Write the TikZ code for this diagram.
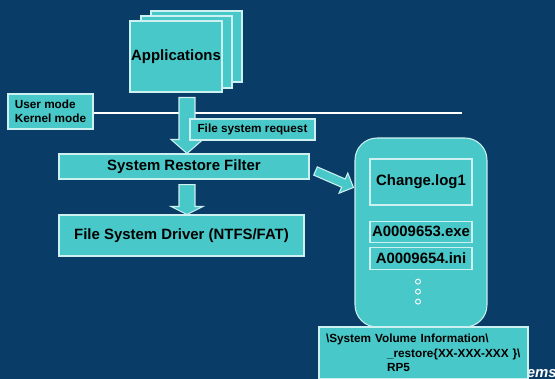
\documentclass[tikz,border=0pt]{standalone}
\usepackage{fontspec}
\setmainfont{Liberation Sans}
\usetikzlibrary{positioning,calc}

\definecolor{slideblue}{RGB}{9,61,104}
\definecolor{boxteal}{RGB}{72,200,200}
\definecolor{boxedge}{RGB}{205,240,240}

\tikzset{
  box/.style={draw=boxedge, fill=boxteal, line width=0.6pt, inner sep=0pt,
    font=\fontsize{8.5}{10}\selectfont\bfseries},
  smallbox/.style={box, font=\fontsize{6.7}{8}\selectfont\bfseries},
  dotmark/.style={circle, draw=white, fill=boxteal, line width=0.5pt,
    minimum size=0.1cm, inner sep=0pt},
  blockarrow/.style args={#1/#2/#3}{draw=boxedge, fill=boxteal, line width=0.6pt,
    to path={
      ($(\tikztostart)!#1!90:(\tikztotarget)$)
      -- ($($(\tikztotarget)!#3!(\tikztostart)$)!#1!90:(\tikztotarget)$)
      -- ($($(\tikztotarget)!#3!(\tikztostart)$)!#2!90:(\tikztotarget)$)
      -- (\tikztotarget)
      -- ($($(\tikztotarget)!#3!(\tikztostart)$)!#2!-90:(\tikztotarget)$)
      -- ($($(\tikztotarget)!#3!(\tikztostart)$)!#1!-90:(\tikztotarget)$)
      -- ($(\tikztostart)!#1!-90:(\tikztotarget)$)
      -- cycle}}
}

\begin{document}
\begin{tikzpicture}[x=0.02cm, y=-0.02cm]
  \useasboundingbox (0,0) rectangle (555,379);
  \clip (0,0) rectangle (555,379);
  \fill[slideblue] (0,0) rectangle (555,379);

  % applications, three sheets
  \node[box, minimum width=1.82cm, minimum height=1.42cm] (app3) at (196.5,46.5) {};
  \node[box, minimum width=1.82cm, minimum height=1.44cm] (app2) at (186.5,52) {};
  \node[box, minimum width=1.84cm, minimum height=1.42cm] (app) at (176,56.5) {Applications};

  % user / kernel border
  \node[smallbox, minimum width=1.7cm, minimum height=0.7cm, align=left]
    (mode) at (50.5,111.5) {User mode\\Kernel mode};
  \coordinate (lineR) at (462,113);
  \draw[white, line width=0.6pt] (mode.east |- lineR) -- (lineR);

  \coordinate (col) at (187,0);
  \coordinate (a1s) at ($(app.south -| col)+(0,5)$);
  \node[box, minimum width=5cm, minimum height=0.5cm] (srf) at (184,166.5) {System Restore Filter};
  \coordinate (a1e) at (srf.north -| col);
  \draw[blockarrow=0.16cm/0.32cm/0.28cm] (a1s) to (a1e);
  \node[smallbox, minimum width=2.5cm, minimum height=0.42cm] (req) at (252.5,129.5) {File system request};

  \node[box, minimum width=4.9cm, minimum height=0.82cm] (fsd) at (181.5,235.5) {File System Driver (NTFS/FAT)};
  \coordinate (a2s) at ($(srf.south -| col)+(0,5)$);
  \coordinate (a2e) at (fsd.north -| col);
  \draw[blockarrow=0.16cm/0.32cm/0.16cm] (a2s) to (a2e);

  % restore store
  \node[box, rounded corners=0.44cm, minimum width=2.64cm, minimum height=3.78cm] (store) at (421,232.5) {};
  \coordinate (a3s) at ($(srf.east)+(6,4.5)$);
  \coordinate (a3e) at ($(store.north west)+(-1,50)$);
  \draw[blockarrow=0.09cm/0.22cm/0.22cm] (a3s) to (a3e);

  \node[box, minimum width=2.04cm, minimum height=0.92cm] (log) at (421,182) {Change.log1};
  \node[box, minimum width=2.04cm, minimum height=0.42cm, below=0.3cm of log] (exe) {A0009653.exe};
  \node[box, minimum width=2.04cm, minimum height=0.44cm, below=0.08cm of exe] (ini) {A0009654.ini};
  \foreach \k in {0,1,2}
    \node[dotmark] (dot\k) at ($(ini.south)+(-3,12+10*\k)$) {};

  \node[anchor=base west, text=white, inner sep=0pt,
    font=\fontsize{8.5}{10}\selectfont\bfseries\itshape] (brand) at (495,377) {Systems};

  \node[smallbox, minimum width=4.18cm, minimum height=1.04cm, text width=3.9cm, align=left,
    font=\fontsize{6.7}{8.2}\selectfont\bfseries] (vol) at (423.5,353)
    {\textbackslash System Volume Information\textbackslash\\
     \hspace*{1.22cm}\_restore\{XX-XXX-XXX \}\textbackslash\\
     \hspace*{1.22cm}RP5};
\end{tikzpicture}
\end{document}
